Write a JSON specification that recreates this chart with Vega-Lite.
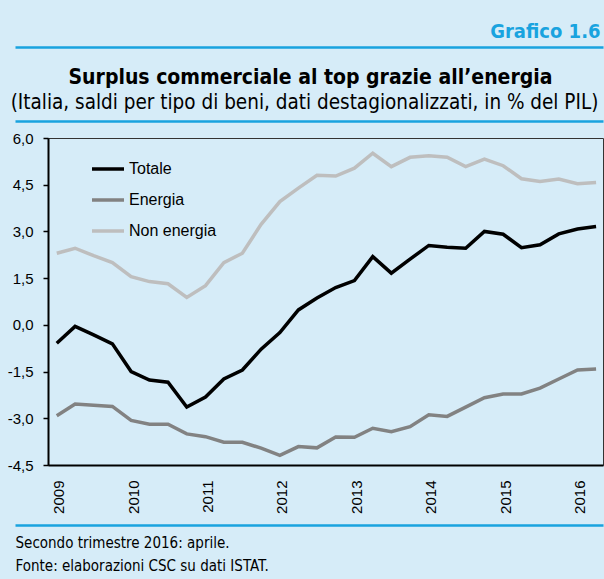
{
  "$schema": "https://vega.github.io/schema/vega-lite/v6.json",
  "width": 555,
  "height": 327,
  "autosize": {"type": "none"},
  "padding": {"left": 48, "top": 138, "right": 1, "bottom": 114},
  "background": "#d6ecf8",
  "config": {
    "font": "Liberation Sans",
    "view": {"stroke": "#333333", "strokeWidth": 1}
  },
  "datasets": {
    "q": [
      {"date": "2009-01-01", "Totale": -0.59, "Energia": -2.92, "Non energia": 2.30},
      {"date": "2009-04-01", "Totale": -0.05, "Energia": -2.54, "Non energia": 2.46},
      {"date": "2009-07-01", "Totale": -0.32, "Energia": -2.58, "Non energia": 2.22},
      {"date": "2009-10-01", "Totale": -0.61, "Energia": -2.62, "Non energia": 2.00},
      {"date": "2010-01-01", "Totale": -1.50, "Energia": -3.07, "Non energia": 1.55},
      {"date": "2010-04-01", "Totale": -1.77, "Energia": -3.19, "Non energia": 1.39},
      {"date": "2010-07-01", "Totale": -1.84, "Energia": -3.19, "Non energia": 1.32},
      {"date": "2010-10-01", "Totale": -2.64, "Energia": -3.50, "Non energia": 0.88},
      {"date": "2011-01-01", "Totale": -2.32, "Energia": -3.59, "Non energia": 1.26},
      {"date": "2011-04-01", "Totale": -1.74, "Energia": -3.77, "Non energia": 2.00},
      {"date": "2011-07-01", "Totale": -1.45, "Energia": -3.77, "Non energia": 2.30},
      {"date": "2011-10-01", "Totale": -0.78, "Energia": -3.96, "Non energia": 3.23},
      {"date": "2012-01-01", "Totale": -0.25, "Energia": -4.19, "Non energia": 3.96},
      {"date": "2012-04-01", "Totale": 0.48, "Energia": -3.91, "Non energia": 4.39},
      {"date": "2012-07-01", "Totale": 0.86, "Energia": -3.95, "Non energia": 4.80},
      {"date": "2012-10-01", "Totale": 1.20, "Energia": -3.60, "Non energia": 4.78},
      {"date": "2013-01-01", "Totale": 1.42, "Energia": -3.61, "Non energia": 5.03},
      {"date": "2013-04-01", "Totale": 2.19, "Energia": -3.32, "Non energia": 5.51},
      {"date": "2013-07-01", "Totale": 1.66, "Energia": -3.43, "Non energia": 5.08},
      {"date": "2013-10-01", "Totale": 2.11, "Energia": -3.27, "Non energia": 5.38},
      {"date": "2014-01-01", "Totale": 2.55, "Energia": -2.89, "Non energia": 5.43},
      {"date": "2014-04-01", "Totale": 2.49, "Energia": -2.94, "Non energia": 5.38},
      {"date": "2014-07-01", "Totale": 2.46, "Energia": -2.64, "Non energia": 5.08},
      {"date": "2014-10-01", "Totale": 3.00, "Energia": -2.34, "Non energia": 5.32},
      {"date": "2015-01-01", "Totale": 2.91, "Energia": -2.22, "Non energia": 5.11},
      {"date": "2015-04-01", "Totale": 2.48, "Energia": -2.22, "Non energia": 4.69},
      {"date": "2015-07-01", "Totale": 2.57, "Energia": -2.03, "Non energia": 4.60},
      {"date": "2015-10-01", "Totale": 2.92, "Energia": -1.74, "Non energia": 4.68},
      {"date": "2016-01-01", "Totale": 3.08, "Energia": -1.45, "Non energia": 4.53},
      {"date": "2016-04-01", "Totale": 3.16, "Energia": -1.42, "Non energia": 4.57}
    ],
    "frame": [{"d": 0}, {"d": 1}]
  },
  "resolve": {"scale": {"x": "independent"}, "axis": {"x": "independent"}},
  "layer": [
    {
      "data": {"name": "q"},
      "transform": [{"fold": ["Totale", "Energia", "Non energia"], "as": ["serie", "v"]}],
      "mark": {"type": "line", "strokeWidth": 3.5},
      "encoding": {
        "x": {
          "field": "date",
          "type": "temporal",
          "scale": {
            "type": "utc",
            "domain": [
              {"year": 2008, "month": 11, "date": 19, "utc": true},
              {"year": 2016, "month": 5, "date": 5, "utc": true}
            ]
          },
          "axis": {
            "orient": "bottom",
            "format": "%Y",
            "tickCount": "year",
            "labelAngle": -90,
            "labelAlign": "right",
            "labelBaseline": "middle",
            "labelPadding": 15,
            "labelOffset": 2,
            "labelFontSize": 15,
            "labelColor": "#000000",
            "ticks": false,
            "grid": false,
            "domainColor": "#000000",
            "domainWidth": 2,
            "title": null
          }
        },
        "y": {
          "field": "v",
          "type": "quantitative",
          "scale": {"domain": [-4.5, 6], "nice": false, "zero": false},
          "axis": {
            "values": [-4.5, -3, -1.5, 0, 1.5, 3, 4.5, 6],
            "labelExpr": "replace(replace(format(datum.value, '.1f'), '.', ','), '−', '-')",
            "tickSize": 5,
            "tickWidth": 1.5,
            "tickColor": "#000000",
            "labelPadding": 10,
            "labelFontSize": 15,
            "labelColor": "#000000",
            "domainColor": "#000000",
            "domainWidth": 2,
            "grid": false,
            "title": null
          }
        },
        "color": {
          "field": "serie",
          "type": "nominal",
          "scale": {"domain": ["Totale", "Energia", "Non energia"], "range": ["#000000", "#828282", "#bebebe"]},
          "legend": {
            "orient": "none",
            "legendX": 42,
            "legendY": 13,
            "title": null,
            "padding": 0,
            "symbolType": "stroke",
            "symbolSize": 1024,
            "symbolStrokeWidth": 3.5,
            "labelFontSize": 16,
            "labelColor": "#000000",
            "labelOffset": 3,
            "rowPadding": 5
          }
        }
      }
    },
    {
      "mark": {"type": "rule", "color": "#222222", "strokeWidth": 1.5},
      "encoding": {"y": {"datum": 0}}
    },
    {
      "data": {"name": "frame"},
      "mark": {"type": "point", "opacity": 0},
      "encoding": {
        "x": {
          "field": "d",
          "type": "quantitative",
          "scale": {"domain": [0, 1], "range": [-33, 555], "nice": false, "zero": false},
          "axis": {
            "orient": "top",
            "offset": 91,
            "labels": false,
            "ticks": false,
            "grid": false,
            "domainColor": "#19a3df",
            "domainWidth": 2.5,
            "title": "Grafico 1.6",
            "titleFont": "DejaVu Sans Condensed, Liberation Sans, sans-serif",
            "titleFontWeight": "bold",
            "titleFontSize": 20,
            "titleColor": "#19a3df",
            "titleAlign": "right",
            "titleBaseline": "alphabetic",
            "titleX": 552,
            "titleY": -10
          }
        }
      }
    },
    {
      "data": {"name": "frame"},
      "mark": {"type": "point", "opacity": 0},
      "encoding": {
        "x": {
          "field": "d",
          "type": "quantitative",
          "scale": {"domain": [0, 1], "range": [-33, 555], "nice": false, "zero": false},
          "axis": {
            "orient": "top",
            "offset": 91,
            "labels": false,
            "ticks": false,
            "grid": false,
            "domain": false,
            "title": "Surplus commerciale al top grazie all’energia",
            "titleFont": "DejaVu Sans Condensed, Liberation Sans, sans-serif",
            "titleFontWeight": "bold",
            "titleFontSize": 21,
            "titleColor": "#000000",
            "titleAlign": "center",
            "titleBaseline": "alphabetic",
            "titleX": 262,
            "titleY": 36
          }
        }
      }
    },
    {
      "data": {"name": "frame"},
      "mark": {"type": "point", "opacity": 0},
      "encoding": {
        "x": {
          "field": "d",
          "type": "quantitative",
          "scale": {"domain": [0, 1], "range": [-33, 555], "nice": false, "zero": false},
          "axis": {
            "orient": "top",
            "offset": 17,
            "labels": false,
            "ticks": false,
            "grid": false,
            "domainColor": "#19a3df",
            "domainWidth": 2.5,
            "title": "(Italia, saldi per tipo di beni, dati destagionalizzati, in % del PIL)",
            "titleFont": "DejaVu Sans Condensed, Liberation Sans, sans-serif",
            "titleFontWeight": "normal",
            "titleFontSize": 20.5,
            "titleColor": "#000000",
            "titleAlign": "center",
            "titleBaseline": "alphabetic",
            "titleX": 256,
            "titleY": -13
          }
        }
      }
    },
    {
      "data": {"name": "frame"},
      "mark": {"type": "point", "opacity": 0},
      "encoding": {
        "x": {
          "field": "d",
          "type": "quantitative",
          "scale": {"domain": [0, 1], "range": [-33, 555], "nice": false, "zero": false},
          "axis": {
            "orient": "bottom",
            "offset": 60,
            "labels": false,
            "ticks": false,
            "grid": false,
            "domainColor": "#19a3df",
            "domainWidth": 2.5,
            "title": ["Secondo trimestre 2016: aprile.", "Fonte: elaborazioni CSC su dati ISTAT."],
            "titleFont": "DejaVu Sans Condensed, Liberation Sans, sans-serif",
            "titleFontWeight": "normal",
            "titleFontSize": 15,
            "titleColor": "#000000",
            "titleAlign": "left",
            "titleBaseline": "alphabetic",
            "titleLineHeight": 23,
            "titleX": -33,
            "titleY": 22
          }
        }
      }
    }
  ]
}
